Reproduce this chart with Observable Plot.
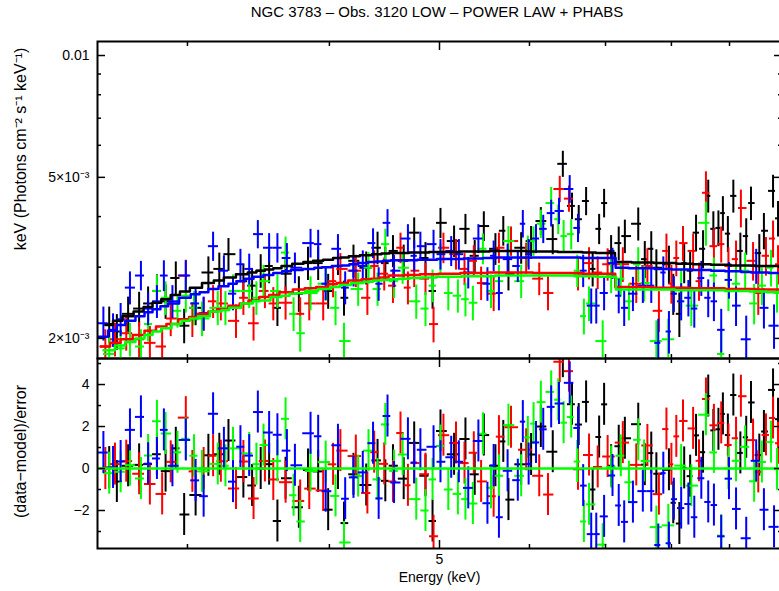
<!DOCTYPE html>
<html>
<head>
<meta charset="utf-8">
<script src="https://cdn.jsdelivr.net/npm/d3@7"></script>
<script src="https://cdn.jsdelivr.net/npm/@observablehq/plot@0.6"></script>
<style>
  body { margin: 0; background: #fff; }
  #chart { position: relative; width: 779px; height: 591px; overflow: hidden; font-family: "Liberation Sans", Arial, sans-serif; background: #fff; }
  #title { position: absolute; top: 3px; left: 0; width: 874px; text-align: center; font-size: 15px; color: #000; z-index: 3; }
  #chart svg { position: absolute; top: 0; left: 0; display: block; }
</style>
</head>
<body>
<div id="chart">
  <div id="title">NGC 3783 – Obs. 3120 LOW – POWER LAW + PHABS</div>
</div>
<script>
// Unfolded spectra, four grating arms. Each row: [energy keV, flux, 1σ error, model]
// flux, error and model in units of 1e-3 photons cm^-2 s^-1 keV^-1 (times keV)
const blackBins = [
  [2.56,2.17,0.22,2.16],[2.60,2.08,0.21,2.21],[2.66,2.30,0.23,2.27],[2.72,2.37,0.23,2.33],
  [2.77,2.44,0.24,2.39],[2.82,2.62,0.25,2.45],[2.87,2.47,0.24,2.50],[2.93,2.82,0.27,2.56],
  [2.98,2.15,0.21,2.61],[3.05,2.38,0.23,2.67],[3.13,2.91,0.27,2.74],[3.20,2.97,0.28,2.78],
  [3.26,3.23,0.30,2.83],[3.36,2.77,0.27,2.88],[3.42,2.70,0.26,2.91],[3.48,2.94,0.28,2.94],
  [3.54,3.02,0.29,2.96],[3.60,2.38,0.24,2.98],[3.66,2.89,0.28,3.02],[3.76,2.58,0.26,3.06],
  [3.83,3.07,0.29,3.09],[3.91,3.07,0.29,3.11],[3.99,2.62,0.26,3.13],[4.07,3.16,0.30,3.16],
  [4.12,2.52,0.25,3.17],[4.20,3.11,0.29,3.19],[4.31,2.99,0.28,3.21],[4.41,3.35,0.31,3.23],
  [4.48,3.07,0.29,3.24],[4.55,3.29,0.30,3.25],[4.65,3.11,0.29,3.25],[4.75,3.65,0.32,3.26],
  [4.86,3.16,0.29,3.26],[4.93,2.62,0.26,3.27],[5.01,3.86,0.33,3.27],[5.15,3.48,0.31,3.27],
  [5.27,3.73,0.32,3.28],[5.37,3.20,0.29,3.28],[5.47,3.79,0.32,3.28],[5.60,3.33,0.30,3.29],
  [5.69,3.69,0.31,3.29],[5.75,2.89,0.27,3.29],[5.90,3.35,0.30,3.29],[6.02,3.48,0.30,3.28],
  [6.14,3.90,0.31,3.28],[6.29,3.52,0.30,3.28],[6.42,5.40,0.40,3.27],[6.54,4.25,0.32,3.27],
  [6.63,3.94,0.32,3.27],[6.73,4.37,0.35,3.26],[6.82,2.97,0.29,3.26],[6.91,3.73,0.32,3.25],
  [6.98,4.32,0.35,3.25],[7.08,3.29,0.30,3.25],[7.19,3.44,0.33,3.09],[7.28,3.58,0.34,3.09],
  [7.48,3.84,0.36,3.08],[7.58,3.14,0.33,3.08],[7.68,3.33,0.34,3.08],[7.76,2.99,0.32,3.07],
  [7.96,3.05,0.33,3.07],[8.03,2.58,0.30,3.07],[8.13,2.30,0.29,3.06],[8.21,3.07,0.34,3.06],
  [8.31,2.94,0.33,3.06],[8.41,3.65,0.38,3.05],[8.53,3.33,0.36,3.05],[8.62,4.50,0.42,3.05],
  [8.71,3.73,0.38,3.04],[8.80,3.75,0.38,3.04],[8.88,4.08,0.40,3.04],[8.97,3.63,0.37,3.04],
  [9.07,4.50,0.42,3.03],[9.20,3.29,0.35,3.03],[9.31,3.58,0.37,3.03],[9.40,4.32,0.41,3.03],
  [9.56,3.25,0.36,3.02],[9.65,3.69,0.38,3.02],[9.83,4.63,0.43,3.02],[9.93,3.96,0.40,3.02]
];
const redBins = [
  [2.54,1.91,0.19,1.91],[2.59,1.99,0.19,1.95],[2.65,2.06,0.20,1.99],[2.72,1.99,0.20,2.04],
  [2.78,1.95,0.19,2.09],[2.85,1.91,0.19,2.14],[2.90,2.24,0.22,2.17],[2.99,2.86,0.26,2.23],
  [3.03,2.23,0.22,2.26],[3.10,2.30,0.22,2.30],[3.16,2.47,0.23,2.33],[3.21,2.44,0.23,2.36],
  [3.31,2.21,0.21,2.41],[3.36,2.52,0.24,2.44],[3.43,2.18,0.21,2.48],[3.51,2.62,0.25,2.53],
  [3.57,2.44,0.23,2.56],[3.66,2.45,0.23,2.60],[3.77,2.30,0.22,2.64],[3.84,2.44,0.23,2.66],
  [3.95,2.44,0.23,2.68],[4.03,2.77,0.25,2.72],[4.09,2.97,0.27,2.74],[4.22,2.94,0.27,2.78],
  [4.32,2.52,0.24,2.80],[4.38,3.02,0.27,2.81],[4.47,2.89,0.27,2.83],[4.55,2.70,0.26,2.86],
  [4.62,3.35,0.29,2.86],[4.69,2.67,0.25,2.87],[4.75,2.94,0.27,2.87],[4.86,2.81,0.26,2.88],
  [4.94,2.17,0.22,2.88],[5.04,3.35,0.29,2.89],[5.17,3.23,0.28,2.89],[5.26,2.97,0.27,2.90],
  [5.36,3.11,0.28,2.90],[5.44,2.74,0.26,2.90],[5.58,2.58,0.25,2.91],[5.64,3.35,0.29,2.91],
  [5.78,3.48,0.29,2.91],[5.96,3.16,0.28,2.91],[6.12,2.81,0.26,2.90],[6.23,2.59,0.25,2.90],
  [6.38,4.68,0.35,2.90],[6.50,4.43,0.33,2.90],[6.62,2.89,0.27,2.90],[6.77,3.07,0.28,2.89],
  [6.89,2.91,0.27,2.89],[7.03,3.05,0.28,2.89],[7.25,3.05,0.30,2.68],[7.45,2.73,0.29,2.68],
  [7.62,3.02,0.31,2.68],[7.80,2.34,0.27,2.67],[7.92,3.29,0.33,2.67],[8.00,2.73,0.30,2.67],
  [8.08,3.16,0.32,2.67],[8.19,3.44,0.34,2.67],[8.36,3.29,0.33,2.66],[8.46,2.77,0.30,2.66],
  [8.58,4.58,0.58,2.66],[8.72,3.38,0.35,2.66],[8.85,3.42,0.35,2.66],[8.98,3.02,0.33,2.65],
  [9.12,3.14,0.34,2.65],[9.21,4.20,0.45,2.65],[9.44,3.11,0.34,2.65],[9.54,2.59,0.31,2.64],
  [9.69,3.20,0.35,2.64],[9.83,3.53,0.37,2.64],[9.93,3.05,0.34,2.64]
];
const greenBins = [
  [2.56,1.83,0.18,1.87],[2.62,1.89,0.19,1.92],[2.67,1.99,0.19,1.96],[2.73,1.91,0.19,2.00],
  [2.77,2.17,0.21,2.04],[2.82,2.62,0.24,2.08],[2.87,2.52,0.24,2.12],[2.94,2.34,0.22,2.17],
  [2.99,2.55,0.24,2.21],[3.04,2.38,0.23,2.24],[3.09,2.24,0.22,2.27],[3.19,2.38,0.23,2.33],
  [3.24,2.38,0.23,2.35],[3.29,2.62,0.25,2.38],[3.40,2.62,0.25,2.44],[3.45,2.52,0.24,2.47],
  [3.50,2.77,0.26,2.48],[3.60,2.62,0.25,2.53],[3.66,3.26,0.30,2.55],[3.72,2.30,0.22,2.58],
  [3.77,2.06,0.21,2.59],[3.85,2.59,0.25,2.62],[3.97,2.73,0.26,2.65],[4.05,2.38,0.23,2.68],
  [4.12,1.97,0.21,2.71],[4.24,2.65,0.25,2.74],[4.33,2.99,0.27,2.76],[4.41,2.65,0.25,2.78],
  [4.48,3.42,0.30,2.79],[4.56,2.77,0.26,2.80],[4.64,2.99,0.27,2.81],[4.77,2.47,0.24,2.82],
  [4.86,2.37,0.23,2.83],[4.93,2.70,0.25,2.83],[5.01,3.14,0.28,2.84],[5.09,2.59,0.25,2.84],
  [5.19,2.55,0.24,2.84],[5.27,2.50,0.24,2.85],[5.35,2.45,0.24,2.85],[5.46,3.33,0.29,2.85],
  [5.55,2.62,0.25,2.85],[5.64,2.77,0.26,2.86],[5.75,3.48,0.30,2.86],[5.90,2.77,0.26,2.86],
  [5.98,3.29,0.29,2.86],[6.05,3.48,0.29,2.86],[6.14,3.84,0.31,2.86],[6.27,4.32,0.40,2.86],
  [6.36,3.94,0.33,2.86],[6.43,3.58,0.33,2.86],[6.53,3.62,0.31,2.86],[6.61,2.94,0.27,2.85],
  [6.70,2.27,0.23,2.85],[6.77,2.44,0.24,2.85],[6.96,1.97,0.24,2.84],[7.08,2.86,0.28,2.84],
  [7.22,2.81,0.28,2.64],[7.34,2.47,0.26,2.64],[7.48,3.05,0.30,2.64],[7.57,2.74,0.28,2.64],
  [7.76,1.97,0.24,2.64],[7.95,1.99,0.24,2.64],[8.16,2.67,0.29,2.63],[8.33,2.41,0.27,2.63],
  [8.58,3.86,0.48,2.63],[8.72,2.86,0.30,2.63],[8.85,1.83,0.25,2.63],[8.98,2.62,0.29,2.62],
  [9.12,2.73,0.30,2.62],[9.29,2.94,0.31,2.62],[9.46,2.44,0.28,2.61],[9.61,2.70,0.29,2.61],
  [9.79,2.99,0.31,2.60],[9.91,2.59,0.28,2.60]
];
const blueBins = [
  [2.53,2.18,0.21,2.02],[2.58,2.10,0.20,2.09],[2.62,2.23,0.21,2.16],[2.67,2.67,0.25,2.21],
  [2.73,2.86,0.24,2.27],[2.77,2.37,0.22,2.32],[2.82,2.47,0.23,2.36],[2.86,2.86,0.25,2.40],
  [2.91,2.47,0.23,2.44],[2.99,2.86,0.25,2.52],[3.05,2.44,0.23,2.57],[3.10,2.31,0.22,2.60],
  [3.16,3.38,0.28,2.65],[3.23,2.94,0.26,2.69],[3.29,2.58,0.24,2.73],[3.34,3.05,0.27,2.77],
  [3.40,2.97,0.26,2.81],[3.46,3.62,0.29,2.84],[3.54,3.35,0.28,2.87],[3.60,3.35,0.28,2.90],
  [3.67,3.16,0.27,2.93],[3.73,2.99,0.26,2.95],[3.85,3.44,0.28,2.97],[3.91,3.42,0.28,2.99],
  [3.97,2.73,0.25,3.00],[4.07,3.33,0.28,3.02],[4.13,2.67,0.25,3.03],[4.20,2.94,0.26,3.05],
  [4.28,3.02,0.27,3.07],[4.37,3.44,0.29,3.09],[4.42,2.73,0.26,3.10],[4.50,3.86,0.30,3.11],
  [4.56,2.94,0.27,3.12],[4.69,3.53,0.29,3.12],[4.75,3.20,0.28,3.12],[4.81,3.38,0.28,3.13],
  [4.94,3.42,0.28,3.13],[5.01,3.23,0.28,3.14],[5.12,3.29,0.28,3.14],[5.20,3.23,0.28,3.14],
  [5.30,2.91,0.26,3.15],[5.41,3.53,0.29,3.15],[5.51,2.73,0.26,3.16],[5.58,3.20,0.28,3.16],
  [5.64,2.59,0.25,3.17],[5.74,3.14,0.28,3.17],[5.86,3.02,0.27,3.17],[5.92,3.84,0.30,3.17],
  [5.99,3.23,0.28,3.17],[6.08,3.53,0.29,3.17],[6.17,3.73,0.30,3.17],[6.27,4.08,0.31,3.17],
  [6.37,4.13,0.31,3.17],[6.51,4.68,0.37,3.17],[6.62,3.75,0.30,3.17],[6.69,2.94,0.27,3.16],
  [6.80,2.41,0.24,3.16],[6.87,2.41,0.24,3.16],[6.98,2.59,0.25,3.16],[7.10,3.07,0.27,3.16],
  [7.19,2.55,0.25,2.99],[7.27,2.38,0.24,2.99],[7.40,2.58,0.25,2.98],[7.55,2.70,0.26,2.98],
  [7.68,2.70,0.26,2.98],[7.79,1.95,0.28,2.97],[7.87,2.91,0.27,2.97],[7.96,2.08,0.25,2.97],
  [8.04,2.58,0.26,2.96],[8.16,2.47,0.26,2.96],[8.28,2.52,0.26,2.96],[8.38,2.37,0.25,2.95],
  [8.50,2.82,0.28,2.95],[8.62,2.52,0.27,2.95],[8.72,2.47,0.27,2.94],[8.85,2.10,0.26,2.94],
  [8.99,2.79,0.29,2.93],[9.12,2.41,0.27,2.93],[9.31,1.99,0.28,2.92],[9.50,3.02,0.30,2.91],
  [9.65,2.38,0.27,2.91],[9.85,2.15,0.27,2.90]
];

// Axis tick values
const energyMinorTicks = [3, 4, 6, 7, 8, 9];
const energyMajorTicks = [5, 10];
const energyLabels = [5];
const fluxMinorTicks = [3, 4, 6, 7, 8, 9];
const fluxMajorTicks = [2, 5, 10];
const residMinorTicks = [-3, -1, 1, 3, 5];
const residMajorTicks = [-2, 0, 2, 4];

const series = [
  {name: "black", color: "#000000", bins: blackBins},
  {name: "red", color: "#ff0000", bins: redBins},
  {name: "green", color: "#00ff00", bins: greenBins},
  {name: "blue", color: "#0000ff", bins: blueBins}
];

// Bin edges are taken halfway (in log energy) between neighbouring bin centres.
function rowsOf(s) {
  const b = s.bins, n = b.length;
  return b.map(([e, f, err, m], i) => {
    const hi = i < n - 1 ? Math.sqrt(e * b[i + 1][0]) : e * e / Math.sqrt(b[i - 1][0] * e);
    const lo = i > 0 ? Math.sqrt(b[i - 1][0] * e) : e * e / Math.sqrt(e * b[i + 1][0]);
    return {e, lo, hi, f, err, m, r: (f - m) / err};
  });
}
// Histogram outline of the folded model
function modelSteps(rows) {
  return rows.flatMap(d => [{x: d.lo, y: d.m}, {x: d.hi, y: d.m}]);
}

const font = "Liberation Sans, Arial, sans-serif";
const fluxFormat = d => d === 10 ? "0.01" : `${d}×10⁻³`;
const residFormat = d => d < 0 ? `−${-d}` : `${d}`;
const xScale = {type: "log", domain: [2.5, 10]};
const svgStyle = {fontFamily: font, fontSize: "14px", color: "#000", background: "transparent", overflow: "hidden"};

const allRows = series.map(s => ({s, rows: rowsOf(s)}));

function ticksFor(minor, major, axis) {
  const A = axis === "x" ? Plot.axisX : Plot.axisY;
  const sides = axis === "x" ? ["top", "bottom"] : ["left", "right"];
  return sides.flatMap(anchor => [
    A(minor, {anchor, tickSize: -4, fill: "none", strokeWidth: 1.5, label: null}),
    A(major, {anchor, tickSize: -8, fill: "none", strokeWidth: 1.5, label: null})
  ]);
}

// Upper panel: unfolded spectrum with model
const upper = Plot.plot({
  width: 779, height: 591,
  marginLeft: 97, marginRight: -2, marginTop: 41, marginBottom: 233,
  style: svgStyle,
  x: xScale,
  y: {type: "log", domain: [1.784, 10.83]},
  marks: [
    ...allRows.flatMap(({s, rows}) => [
      Plot.ruleY(rows, {x1: "lo", x2: "hi", y: "f", stroke: s.color, strokeWidth: 2, clip: true}),
      Plot.ruleX(rows, {x: "e", y1: d => d.f - d.err, y2: d => d.f + d.err, stroke: s.color, strokeWidth: 2, clip: true})
    ]),
    ...allRows.map(({s, rows}) =>
      Plot.line(modelSteps(rows), {x: "x", y: "y", stroke: s.color, strokeWidth: 2.5, clip: true})),
    Plot.frame({stroke: "#000", strokeWidth: 2}),
    ...ticksFor(energyMinorTicks, energyMajorTicks, "x"),
    ...ticksFor(fluxMinorTicks, fluxMajorTicks, "y"),
    Plot.axisY(fluxMajorTicks, {anchor: "left", tickSize: 0, tickPadding: 8, tickFormat: fluxFormat, fontSize: 14, label: null}),
    Plot.text(["keV (Photons cm⁻² s⁻¹ keV⁻¹)"], {frameAnchor: "left", textAnchor: "middle", lineAnchor: "middle", dx: -77, dy: -51, rotate: -90, fontSize: 16, fill: "#000"})
  ]
});

// Lower panel: residuals in units of sigma
const lower = Plot.plot({
  width: 779, height: 591,
  marginLeft: 97, marginRight: -2, marginTop: 358, marginBottom: 43,
  style: svgStyle,
  x: xScale,
  y: {domain: [-3.81, 5.24]},
  marks: [
    ...allRows.flatMap(({s, rows}) => [
      Plot.ruleY(rows, {x1: "lo", x2: "hi", y: "r", stroke: s.color, strokeWidth: 2, clip: true}),
      Plot.ruleX(rows, {x: "e", y1: d => d.r - 1, y2: d => d.r + 1, stroke: s.color, strokeWidth: 2, clip: true})
    ]),
    Plot.ruleY([0], {stroke: "#00ff00", strokeWidth: 2.5, clip: true}),
    Plot.frame({stroke: "#000", strokeWidth: 2}),
    ...ticksFor(energyMinorTicks, energyMajorTicks, "x"),
    ...ticksFor(residMinorTicks, residMajorTicks, "y"),
    Plot.axisX(energyLabels, {anchor: "bottom", tickSize: 0, tickPadding: 6, tickFormat: d => `${d}`, fontSize: 14, label: null}),
    Plot.axisY(residMajorTicks, {anchor: "left", tickSize: 0, tickPadding: 8, tickFormat: residFormat, fontSize: 14, label: null}),
    Plot.text(["(data−model)/error"], {frameAnchor: "left", textAnchor: "middle", lineAnchor: "middle", dx: -77, dy: -2, rotate: -90, fontSize: 16, fill: "#000"}),
    Plot.text(["Energy (keV)"], {frameAnchor: "bottom", lineAnchor: "middle", dy: 29, fontSize: 14, fill: "#000"})
  ]
});

const chart = document.getElementById("chart");
chart.appendChild(lower);
chart.appendChild(upper);
</script>
</body>
</html>
